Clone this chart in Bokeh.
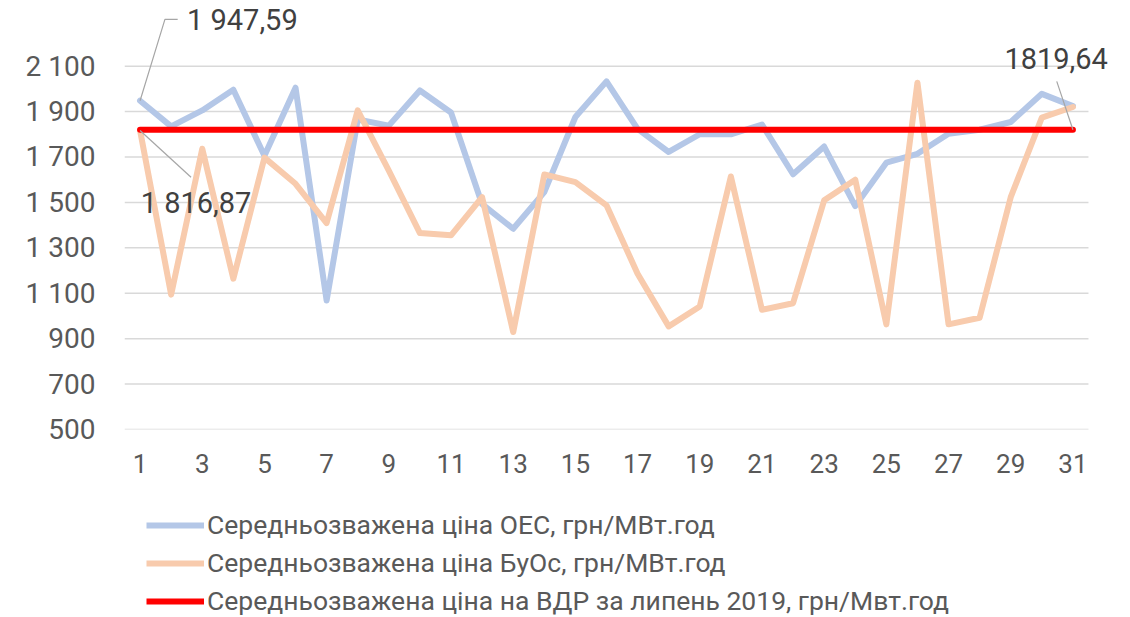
from bokeh.plotting import figure
from bokeh.layouts import column
from bokeh.models import Range1d, FixedTicker, Legend, LegendItem, Label
from bokeh.embed import file_html
from bokeh.resources import INLINE

# ---- data ----
days = list(range(1, 32))
oes = [1947.59, 1835, 1905, 1996, 1705, 2005, 1068, 1865, 1838, 1993, 1896,
       1492, 1384, 1545, 1876, 2033, 1824, 1722, 1800, 1800, 1843, 1624,
       1746, 1484, 1675, 1714, 1802, 1820, 1854, 1978, 1924]
buos = [1816.87, 1094, 1736, 1164, 1697, 1582, 1409, 1905, 1640, 1365, 1355,
        1523, 929, 1623, 1589, 1487, 1186, 954, 1042, 1614, 1027, 1056,
        1509, 1600, 963, 2027, 963, 992, 1523, 1873, 1920]
vdr_price = 1819.64
vdr = [vdr_price] * len(days)

y_ticks = [500, 700, 900, 1100, 1300, 1500, 1700, 1900, 2100]
x_ticks = list(range(1, 32, 2))

legend_labels = [
    "Середньозважена ціна ОЕС, грн/МВт.год",
    "Середньозважена ціна БуОс, грн/МВт.год",
    "Середньозважена ціна на ВДР за липень 2019, грн/Мвт.год",
]
label_oes_first = "1 947,59"
label_buos_first = "1 816,87"
label_vdr_last = "1819,64"

FONT = "Roboto"
GREY = "#595959"
DARK = "#404040"
C_OES = "#B4C7E7"
C_BUOS = "#F8CBAD"
C_VDR = "#FF0000"
LW = 6

x_lo, x_hi = days[0] - 0.5, days[-1] + 0.5   # category band extent

p = figure(width=1130, height=490, output_backend="svg", toolbar_location=None,
           x_range=Range1d(x_lo, 32.53), y_range=Range1d(500, 2389),
           min_border_left=124, min_border_right=10, min_border_top=0,
           min_border_bottom=61)
p.outline_line_color = None
p.background_fill_color = "white"
p.border_fill_color = "white"

# axes
p.xaxis.ticker = FixedTicker(ticks=x_ticks)
p.yaxis.ticker = FixedTicker(ticks=y_ticks)
p.yaxis.major_label_overrides = {t: f"{t:,}".replace(",", " ") for t in y_ticks}
for ax in (p.xaxis[0], p.yaxis[0]):
    ax.axis_line_color = None
    ax.major_tick_line_color = None
    ax.minor_tick_line_color = None
    ax.major_tick_out = 0
    ax.major_tick_in = 0
    ax.major_label_text_font = FONT
    ax.major_label_text_color = GREY
p.yaxis.major_label_text_font_size = "28px"
p.xaxis.major_label_text_font_size = "26px"
p.yaxis.major_label_standoff = 29
p.xaxis.major_label_standoff = 24
p.xgrid.grid_line_color = None
p.ygrid.grid_line_color = None

# horizontal gridlines limited to the category band
p.segment(x0=[x_lo] * len(y_ticks), x1=[x_hi] * len(y_ticks),
          y0=y_ticks, y1=y_ticks, line_color="#D9D9D9", line_width=1.5)

r1 = p.line(days, oes, line_color=C_OES, line_width=LW,
            line_cap="round", line_join="round")
r2 = p.line(days, buos, line_color=C_BUOS, line_width=LW,
            line_cap="round", line_join="round")
r3 = p.line(days, vdr, line_color=C_VDR, line_width=LW,
            line_cap="round", line_join="round")

# leader lines for data labels
lead = dict(line_color="#A6A6A6", line_width=1.2)
p.line([days[0], days[0] + 0.80, days[0] + 1.21],
       [oes[0], oes[0] + 358, oes[0] + 358], **lead)
p.line([days[0], days[0] + 1.64], [buos[0], buos[0] - 206], **lead)
p.line([days[-1], days[-1] - 0.52], [vdr[-1], vdr[-1] + 213], **lead)

p.add_layout(Label(x=days[0] + 1.51, y=oes[0] + 354, text=label_oes_first,
                   text_font=FONT, text_font_size="29px", text_color=DARK,
                   text_align="left", text_baseline="middle"))
p.add_layout(Label(x=days[0] + 1.80, y=buos[0] - 321, text=label_buos_first,
                   text_font=FONT, text_font_size="29px", text_color=DARK,
                   text_align="center", text_baseline="middle"))
p.add_layout(Label(x=days[-1] - 0.54, y=vdr[-1] + 314, text=label_vdr_last,
                   text_font=FONT, text_font_size="29px", text_color=DARK,
                   text_align="center", text_baseline="middle"))

# ---- legend panel ----
lg = figure(width=1130, height=127, output_backend="svg", toolbar_location=None,
            x_range=Range1d(0, 1), y_range=Range1d(0, 1),
            x_axis_type=None, y_axis_type=None,
            min_border_left=0, min_border_right=0, min_border_top=0,
            min_border_bottom=0)
lg.outline_line_color = None
lg.xgrid.visible = False
lg.ygrid.visible = False
# legend key renderers placed outside the visible range
g1 = lg.line([-5, -4], [-5, -5], line_color=C_OES, line_width=LW)
g2 = lg.line([-5, -4], [-5, -5], line_color=C_BUOS, line_width=LW)
g3 = lg.line([-5, -4], [-5, -5], line_color=C_VDR, line_width=LW)

legend = Legend(items=[LegendItem(label=legend_labels[0], renderers=[g1]),
                       LegendItem(label=legend_labels[1], renderers=[g2]),
                       LegendItem(label=legend_labels[2], renderers=[g3])],
                location=(22, 1), orientation="vertical")
legend.glyph_width = 58
legend.glyph_height = 20
legend.label_standoff = 3
legend.spacing = 7
legend.padding = 0
legend.margin = 0
legend.label_text_font = FONT
legend.label_text_font_size = "26.5px"
legend.label_text_color = GREY
legend.border_line_alpha = 0
legend.background_fill_alpha = 0
lg.add_layout(legend, "center")

layout = column(p, lg, spacing=0)
open("out.html", "w").write(file_html(layout, INLINE))
